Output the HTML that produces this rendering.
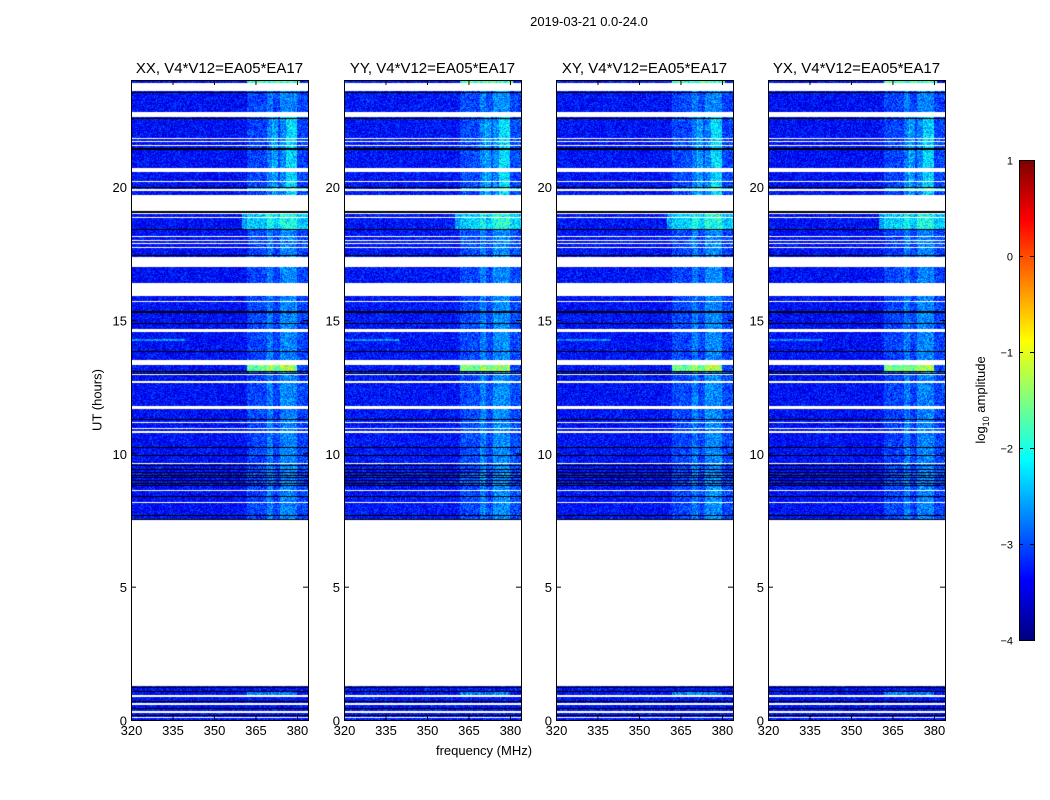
<!DOCTYPE html>
<html><head><meta charset="utf-8">
<style>
body{margin:0;background:#fff;font-family:"Liberation Sans",sans-serif;}
#root{position:relative;width:1050px;height:800px;overflow:hidden;background:#fff;}
.t{position:absolute;white-space:nowrap;color:#000;}
canvas{position:absolute;}
</style></head>
<body>
<div id="root">
<div class="t" style="left:0;width:1178px;text-align:center;top:14px;font-size:13px;">2019-03-21 0.0-24.0</div>
<div class="t" style="left:97px;top:400px;font-size:13px;transform:translate(-50%,-50%) rotate(-90deg);">UT (hours)</div>
<div class="t" style="left:484px;top:743px;font-size:13px;transform:translateX(-50%);">frequency (MHz)</div>
<div class="t" style="left:982px;top:400px;font-size:13px;transform:translate(-50%,-50%) rotate(-90deg);">log<sub style="font-size:9px">10</sub> amplitude</div>
<svg id="ov" width="1050" height="800" style="position:absolute;left:0;top:0"></svg>
</div>
<script>
// ---- data ----
const panelTitles = ["XX, V4*V12=EA05*EA17","YY, V4*V12=EA05*EA17","XY, V4*V12=EA05*EA17","YX, V4*V12=EA05*EA17"];
const panelLeft = [131,344,556,768];
const panelGain = [0.0,0.1,0.05,0.0];
const xTicks = [320,335,350,365,380];
const yTicks = [0,5,10,15,20];
const cbTicks = [1,0,-1,-2,-3,-4];
// data-free intervals (hours) shown white
const whiteGaps = [[1.27,7.5],[23.6,23.87],[22.6,22.8],[21.78,21.84],[21.66,21.7],[21.52,21.56],[20.55,20.7],[20.18,20.22],[19.85,19.92],[19.1,19.7],[18.97,19.0],[18.83,18.86],[18.1,18.14],[17.98,18.01],[17.85,17.88],[17.7,17.73],[17.57,17.6],[17.0,17.35],[15.9,16.4],[15.68,15.7],[15.55,15.58],[14.55,14.65],[13.3,13.5],[12.92,12.96],[12.65,12.7],[11.68,11.76],[11.15,11.19],[10.92,10.96],[10.78,10.82],[9.6,9.63],[8.6,8.63],[8.12,8.16],[0.85,0.95],[0.55,0.62],[0.28,0.34],[0.08,0.12]];
// flagged rows drawn black
const blackLines = [23.55,22.59,21.43,20.0,19.07,18.4,17.45,15.32,14.9,13.85,13.1,13.02,11.3,10.25,9.95,9.55,9.4,9.3,9.2,9.1,9.0,8.9,8.8,8.4,7.7,7.55,1.25,1.1,0.7,0.45,0.2];
// bright RFI features: [f0,f1,h0,h1,level]
const features = [
 [362,384,7.5,23.6,0.3],[369,371.5,7.5,23.6,0.3],[374,380,7.5,23.6,0.35],
 [371,373,19.7,22.6,0.45],[376,380,19.7,22.6,0.45],
 [360,384,18.4,19.1,0.75],[362,380,13.1,13.3,1.5],[362,381,23.6,24,1.6],
 [362,380,0.9,1.1,0.6],[320,340,14.2,14.3,0.7],[362,384,19.9,20.0,0.7]];
const baseLevel = -3.35;

// ---- helpers ----
const H0=80,H1=720,PW=177;
const yOf=h=>H1-(h/24)*(H1-H0);
const fx=f=>(f-320)/64*PW;
function jet(v){
  const c=x=>Math.max(0,Math.min(1,x));
  return [c(1.5-Math.abs(4*v-3)),c(1.5-Math.abs(4*v-2)),c(1.5-Math.abs(4*v-1))].map(x=>Math.round(x*255));
}
function hash(a,b,c){let n=(a*374761393+b*668265263+c*2147483647)|0;n=(n^(n>>>13))*1274126177;n=n^(n>>>16);return ((n>>>0)%10000)/10000;}
const root=document.getElementById('root');
const svg=document.getElementById('ov');
const NS='http://www.w3.org/2000/svg';
function sv(tag,attrs,name){const e=document.createElementNS(NS,tag);for(const k in attrs)e.setAttribute(k,attrs[k]);


svg.appendChild(e);return e;}
function txt(x,y,s,size,anchor,name){const e=sv('text',{x:x,y:y,'font-size':size,'text-anchor':anchor,'font-family':'Liberation Sans, sans-serif'},name);e.textContent=s;return e;}

panelLeft.forEach((L,p)=>{
  const cv=document.createElement('canvas');
  cv.width=PW;cv.height=H1-H0;cv.style.left=L+'px';cv.style.top=H0+'px';
  
  
  root.insertBefore(cv,svg);
  const ctx=cv.getContext('2d');const img=ctx.createImageData(PW,H1-H0);
  for(let r=0;r<H1-H0;r++){
    const h=24*(1-(r+0.5)/(H1-H0));
    const white=whiteGaps.some(g=>h>=g[0]&&h<=g[1]);
    const black=blackLines.some(b=>Math.abs(yOf(b)-(H0+r))<0.6);
    for(let c=0;c<PW;c++){
      const i=(r*PW+c)*4;let col;
      if(white)col=[255,255,255];
      else if(black)col=[0,0,0];
      else{
        const f=320+(c+0.5)/PW*64;
        let v=baseLevel+panelGain[p]*0.4+(hash(r,c,p)-0.5)*0.8;
        features.forEach(F=>{if(f>=F[0]&&f<=F[1]&&h>=F[2]&&h<=F[3])v+=F[4]*(0.7+0.5*hash(c,r,p+7));});
        col=jet(Math.max(0,Math.min(1,(v+4)/5)));
      }
      img.data[i]=col[0];img.data[i+1]=col[1];img.data[i+2]=col[2];img.data[i+3]=255;
    }
  }
  ctx.putImageData(img,0,0);
  sv('rect',{x:L+0.5,y:H0+0.5,width:PW,height:H1-H0,fill:'none',stroke:'#000','stroke-width':1},'panel-frame-'+(p+1));
  txt(L+PW/2,73,panelTitles[p],15,'middle','panel-title-'+(p+1));
  xTicks.forEach(t=>{const x=L+fx(t)+0.5;
    sv('line',{x1:x,y1:H1,x2:x,y2:H1-5,stroke:'#000'},'x-tick');
    sv('line',{x1:x,y1:H0,x2:x,y2:H0+5,stroke:'#000'},'x-tick-top');
    txt(x,H1+15,String(t),13,'middle','x-tick-label');});
  yTicks.forEach(t=>{const y=yOf(t)+0.5;
    sv('line',{x1:L,y1:y,x2:L+5,y2:y,stroke:'#000'},'y-tick');
    sv('line',{x1:L+PW,y1:y,x2:L+PW-5,y2:y,stroke:'#000'},'y-tick-right');
    txt(L-4,y+5,String(t),13,'end','y-tick-label');});
});
// colorbar
const cb=document.createElement('canvas');cb.width=15;cb.height=480;cb.style.left='1019px';cb.style.top='160px';


root.insertBefore(cb,svg);
const cx=cb.getContext('2d');
for(let r=0;r<480;r++){const c=jet(1-r/479);cx.fillStyle=`rgb(${c[0]},${c[1]},${c[2]})`;cx.fillRect(0,r,15,1);}
sv('rect',{x:1019.5,y:160.5,width:15,height:480,fill:'none',stroke:'#000'},'colorbar-frame');
cbTicks.forEach(t=>{const y=640-(t+4)/5*480+0.5;
  sv('line',{x1:1019,y1:y,x2:1023,y2:y,stroke:'#000'},'colorbar-tick');
  sv('line',{x1:1034,y1:y,x2:1030,y2:y,stroke:'#000'},'colorbar-tick-right');
  txt(1013,y+4,t<0?'\u2212'+(-t):String(t),11,'end','colorbar-tick-label');});
</script>
</body></html>
